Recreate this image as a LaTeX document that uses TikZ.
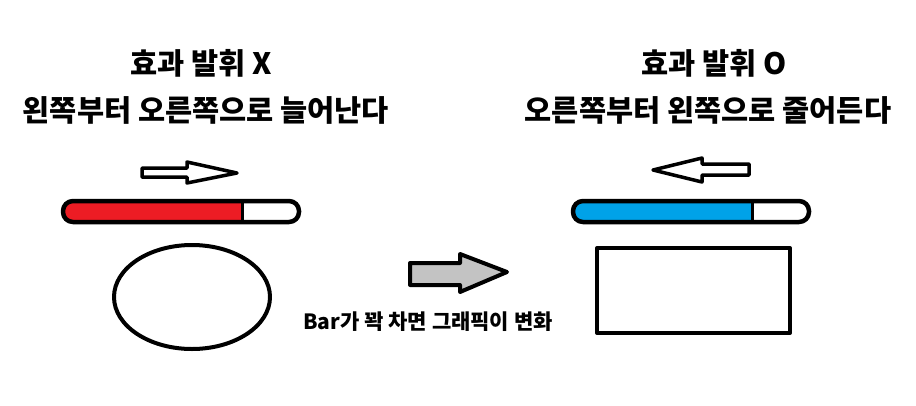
\documentclass[tikz,border=0pt]{standalone}
\usepackage{fontspec}
\newfontfamily\kr{Noto Sans CJK KR}
\usepackage{xcolor}
\usetikzlibrary{shapes.geometric}

\definecolor{barred}{HTML}{ED1C24}
\definecolor{barblue}{HTML}{00A2E8}
\definecolor{arrowgray}{HTML}{C3C3C3}

\begin{document}
\begin{tikzpicture}[
    x=1pt,
    y=-1pt,
    heading/.style={
        font=\kr\bfseries\fontsize{29.5}{34}\selectfont,
        inner sep=0pt
    },
    caption/.style={
        font=\kr\bfseries\fontsize{21}{25}\selectfont,
        inner sep=0pt
    },
    outline/.style={
        draw=black,
        line width=4pt,
        line join=round
    },
    gauge/.style={
        rounded corners=10pt
    }
]

\useasboundingbox[fill=white] (0,0) rectangle (916,405);

%---------------------------------------------------------------------
% Headings
%---------------------------------------------------------------------

\node[heading] (titleL) at (201,63) {효과 발휘 X};
\node[heading] (descL) at (206,110) {왼쪽부터 오른쪽으로 늘어난다};

\node[heading] (titleR) at (714,63) {효과 발휘 O};
\node[heading] (descR) at (708,110) {오른쪽부터 왼쪽으로 줄어든다};

%---------------------------------------------------------------------
% Direction arrows
%---------------------------------------------------------------------

\draw[outline, line width=3.5pt, fill=white]
    (142,168) -- (187,168) -- (187,162) -- (237,173)
    -- (187,183) -- (187,177) -- (142,177) -- cycle;

\draw[outline, line width=3.5pt, fill=white]
    (749,164) -- (702,164) -- (702,158) -- (653,170)
    -- (702,182) -- (702,175) -- (749,175) -- cycle;

%---------------------------------------------------------------------
% Gauge bars
%---------------------------------------------------------------------

\fill[white, gauge] (63,201) rectangle (299,222);
\begin{scope}
    \clip[gauge] (63,201) rectangle (299,222);
    \fill[barred] (63,201) rectangle (242,222);
\end{scope}
\draw[line width=3pt] (242,201) -- (242,222);
\draw[outline, line width=4.5pt, gauge] (63,201) rectangle (299,222);

\fill[white, gauge] (573,201) rectangle (809,222);
\begin{scope}
    \clip[gauge] (573,201) rectangle (809,222);
    \fill[barblue] (573,201) rectangle (752,222);
\end{scope}
\draw[line width=3pt] (752,201) -- (752,222);
\draw[outline, line width=4.5pt, gauge] (573,201) rectangle (809,222);

%---------------------------------------------------------------------
% Graphics before / after
%---------------------------------------------------------------------

\node[outline, ellipse, minimum width=156pt, minimum height=104pt] (before) at (192,297) {};
\node[outline, rectangle, minimum width=193pt, minimum height=85pt] (after) at (693.5,290.5) {};

\draw[outline, fill=arrowgray]
    (410,263) -- (460,263) -- (460,254) -- (507,272)
    -- (460,292) -- (460,285) -- (410,285) -- cycle;

\node[caption] (change) at (428,322) {Bar가 꽉 차면 그래픽이 변화};

\end{tikzpicture}
\end{document}
